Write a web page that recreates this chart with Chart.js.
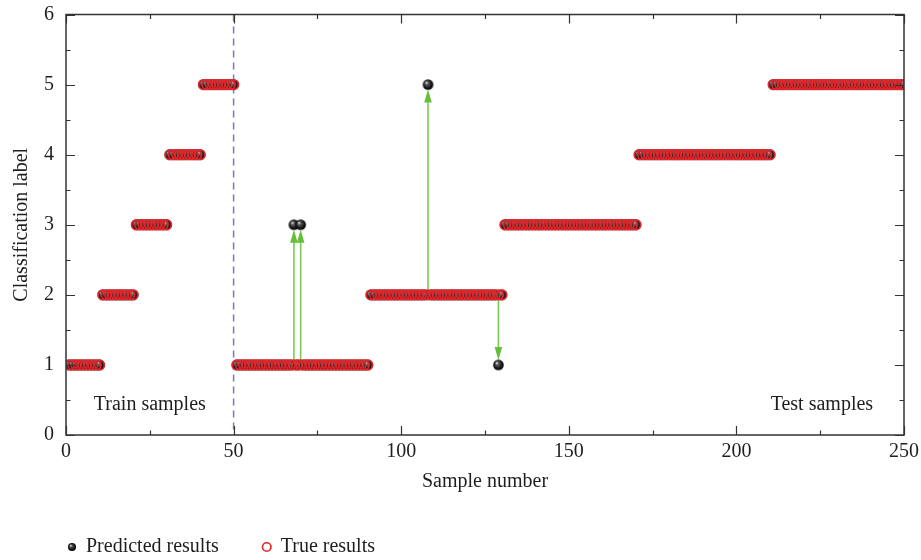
<!DOCTYPE html>
<html><head><meta charset="utf-8">
<script src="https://cdn.jsdelivr.net/npm/chart.js@4.4.1/dist/chart.umd.min.js"></script>
<style>html,body{margin:0;padding:0;background:#fff;}#wrap{width:921px;height:560px;position:relative;}</style>
</head><body><div id="wrap"><canvas id="c" width="921" height="560"></canvas></div>
<script>
// ---- data ----
const xTicks = [0, 50, 100, 150, 200, 250];
const yTicks = [0, 1, 2, 3, 4, 5, 6];
const seriesNames = ['Predicted results', 'True results'];
const regionLabels = ['Train samples', 'Test samples'];
const trainTestBoundary = 50;

const trueLabels = [
  1,1,1,1,1,1,1,1,1,1,
  2,2,2,2,2,2,2,2,2,2,
  3,3,3,3,3,3,3,3,3,3,
  4,4,4,4,4,4,4,4,4,4,
  5,5,5,5,5,5,5,5,5,5,
  1,1,1,1,1,1,1,1,1,1,
  1,1,1,1,1,1,1,1,1,1,
  1,1,1,1,1,1,1,1,1,1,
  1,1,1,1,1,1,1,1,1,1,
  2,2,2,2,2,2,2,2,2,2,
  2,2,2,2,2,2,2,2,2,2,
  2,2,2,2,2,2,2,2,2,2,
  2,2,2,2,2,2,2,2,2,2,
  3,3,3,3,3,3,3,3,3,3,
  3,3,3,3,3,3,3,3,3,3,
  3,3,3,3,3,3,3,3,3,3,
  3,3,3,3,3,3,3,3,3,3,
  4,4,4,4,4,4,4,4,4,4,
  4,4,4,4,4,4,4,4,4,4,
  4,4,4,4,4,4,4,4,4,4,
  4,4,4,4,4,4,4,4,4,4,
  5,5,5,5,5,5,5,5,5,5,
  5,5,5,5,5,5,5,5,5,5,
  5,5,5,5,5,5,5,5,5,5,
  5,5,5,5,5,5,5,5,5,5
];

const predictedLabels = [
  1,1,1,1,1,1,1,1,1,1,
  2,2,2,2,2,2,2,2,2,2,
  3,3,3,3,3,3,3,3,3,3,
  4,4,4,4,4,4,4,4,4,4,
  5,5,5,5,5,5,5,5,5,5,
  1,1,1,1,1,1,1,1,1,1,
  1,1,1,1,1,1,1,3,1,3,
  1,1,1,1,1,1,1,1,1,1,
  1,1,1,1,1,1,1,1,1,1,
  2,2,2,2,2,2,2,2,2,2,
  2,2,2,2,2,2,2,5,2,2,
  2,2,2,2,2,2,2,2,2,2,
  2,2,2,2,2,2,2,2,1,2,
  3,3,3,3,3,3,3,3,3,3,
  3,3,3,3,3,3,3,3,3,3,
  3,3,3,3,3,3,3,3,3,3,
  3,3,3,3,3,3,3,3,3,3,
  4,4,4,4,4,4,4,4,4,4,
  4,4,4,4,4,4,4,4,4,4,
  4,4,4,4,4,4,4,4,4,4,
  4,4,4,4,4,4,4,4,4,4,
  5,5,5,5,5,5,5,5,5,5,
  5,5,5,5,5,5,5,5,5,5,
  5,5,5,5,5,5,5,5,5,5,
  5,5,5,5,5,5,5,5,5,5
];

// ---- styling helpers ----
const FONT = '"Liberation Serif", "Times New Roman", serif';
const TXT = '#1e1e1e';
function makeSphere(r) {
  const s = Math.ceil(r * 2 + 2);
  const cv = document.createElement('canvas');
  cv.width = s; cv.height = s;
  const g = cv.getContext('2d');
  const c = s / 2;
  const grad = g.createRadialGradient(c - r * 0.35, c - r * 0.4, r * 0.05, c, c, r);
  grad.addColorStop(0, '#e6e6e6');
  grad.addColorStop(0.3, '#555');
  grad.addColorStop(0.75, '#151515');
  grad.addColorStop(1, '#000');
  g.fillStyle = grad;
  g.beginPath(); g.arc(c, c, r, 0, Math.PI * 2); g.fill();
  return cv;
}
const sphere = makeSphere(5.3);
const sphereSmall = makeSphere(4);

const predPoints = predictedLabels.map((v, i) => ({ x: i + 1, y: v }));
const truePoints = trueLabels.map((v, i) => ({ x: i + 1, y: v }));

const decor = {
  id: 'decor',
  afterLayout(chart) {
    chart.legend.left = 24;
    chart.legend.top = 493;
  },
  beforeDatasetsDraw(chart) {
    const { ctx, chartArea: a, scales: { x, y } } = chart;
    ctx.save();
    ctx.strokeStyle = '#6b7fc4';
    ctx.lineWidth = 1.5;
    ctx.setLineDash([7, 5]);
    const bx = x.getPixelForValue(trainTestBoundary);
    ctx.beginPath(); ctx.moveTo(bx, a.top); ctx.lineTo(bx, a.bottom); ctx.stroke();
    ctx.setLineDash([]);
    predictedLabels.forEach((p, i) => {
      const t = trueLabels[i];
      if (p === t) return;
      const px = x.getPixelForValue(i + 1);
      const y0 = y.getPixelForValue(t);
      const y1 = y.getPixelForValue(p);
      const dir = y1 < y0 ? -1 : 1;
      const tip = y1 - dir * 5;
      const headLen = 13, headW = 3.8;
      ctx.strokeStyle = '#7cc853';
      ctx.lineWidth = 1.6;
      ctx.beginPath(); ctx.moveTo(px, y0); ctx.lineTo(px, tip - dir * headLen + dir * 1); ctx.stroke();
      ctx.fillStyle = '#66bd3a';
      ctx.beginPath();
      ctx.moveTo(px, tip);
      ctx.lineTo(px - headW, tip - dir * headLen);
      ctx.lineTo(px + headW, tip - dir * headLen);
      ctx.closePath(); ctx.fill();
    });
    ctx.restore();
  },
  afterDatasetsDraw(chart) {
    const { ctx, chartArea: a, scales: { x, y } } = chart;
    ctx.save();
    ctx.strokeStyle = '#333';
    ctx.lineWidth = 1.5;
    ctx.strokeRect(a.left, a.top, a.right - a.left, a.bottom - a.top);
    ctx.lineWidth = 1.2;
    ctx.beginPath();
    const maj = 9, mnr = 4.5;
    xTicks.forEach((v, i) => {
      const px = Math.round(x.getPixelForValue(v)) + 0.5;
      ctx.moveTo(px, a.bottom); ctx.lineTo(px, a.bottom - maj);
      ctx.moveTo(px, a.top); ctx.lineTo(px, a.top + maj);
      if (i < xTicks.length - 1) {
        const mx = Math.round(x.getPixelForValue((v + xTicks[i + 1]) / 2)) + 0.5;
        ctx.moveTo(mx, a.bottom); ctx.lineTo(mx, a.bottom - mnr);
        ctx.moveTo(mx, a.top); ctx.lineTo(mx, a.top + mnr);
      }
    });
    yTicks.forEach((v, i) => {
      const py = Math.round(y.getPixelForValue(v)) + 0.5;
      ctx.moveTo(a.left, py); ctx.lineTo(a.left + maj, py);
      ctx.moveTo(a.right, py); ctx.lineTo(a.right - maj, py);
      if (i < yTicks.length - 1) {
        const my = Math.round(y.getPixelForValue((v + yTicks[i + 1]) / 2)) + 0.5;
        ctx.moveTo(a.left, my); ctx.lineTo(a.left + mnr, my);
        ctx.moveTo(a.right, my); ctx.lineTo(a.right - mnr, my);
      }
    });
    ctx.stroke();
    ctx.fillStyle = TXT;
    ctx.font = '20px ' + FONT;
    ctx.textAlign = 'center';
    ctx.textBaseline = 'middle';
    ctx.fillText(regionLabels[0], x.getPixelForValue(25), y.getPixelForValue(0.43));
    ctx.fillText(regionLabels[1], x.getPixelForValue(225.5), y.getPixelForValue(0.43));
    ctx.restore();
  }
};

new Chart(document.getElementById('c'), {
  type: 'scatter',
  data: {
    datasets: [
      { label: seriesNames[0], data: predPoints, pointStyle: sphere, pointRadius: 5.3,
        backgroundColor: '#111', borderColor: '#111', order: 1 },
      { label: seriesNames[1], data: truePoints, pointStyle: 'circle', pointRadius: 4.8,
        borderWidth: 1.7, borderColor: '#e0262b', backgroundColor: 'rgba(0,0,0,0)', order: 0 }
    ]
  },
  options: {
    responsive: false,
    animation: false,
    devicePixelRatio: 1,
    layout: { padding: { top: 14.5, right: 17, left: 0, bottom: 0 } },
    scales: {
      x: {
        type: 'linear', min: 0, max: 250,
        afterBuildTicks: s => { s.ticks = xTicks.map(v => ({ value: v })); },
        afterFit: s => { s.height = 59; s.paddingLeft = 0; s.paddingRight = 0; s.paddingTop = 0; s.paddingBottom = 0; },
        ticks: { padding: 5, maxRotation: 0, color: TXT, font: { family: FONT, size: 20 } },
        grid: { display: false, drawTicks: false },
        border: { display: false },
        title: { display: true, text: 'Sample number', color: TXT, padding: { top: 0, bottom: 0 },
                 font: { family: FONT, size: 20 } }
      },
      y: {
        type: 'linear', min: 0, max: 6,
        afterBuildTicks: s => { s.ticks = yTicks.map(v => ({ value: v })); },
        afterFit: s => { s.width = 66; s.paddingLeft = 0; s.paddingRight = 0; s.paddingTop = 0; s.paddingBottom = 0; },
        ticks: { padding: 12, color: TXT, font: { family: FONT, size: 20 } },
        grid: { display: false, drawTicks: false },
        border: { display: false },
        title: { display: true, text: 'Classification label', color: TXT, padding: { top: 10, bottom: 0 },
                 font: { family: FONT, size: 20 } }
      }
    },
    plugins: {
      tooltip: { enabled: false },
      legend: {
        position: 'bottom', align: 'start', maxHeight: 66,
        labels: {
          usePointStyle: true, boxWidth: 8, boxHeight: 6, padding: 44, color: TXT,
          font: { family: FONT, size: 20 },
          sort: (a, b) => a.datasetIndex - b.datasetIndex,
          generateLabels: (chart) => {
            const items = Chart.defaults.plugins.legend.labels.generateLabels(chart);
            items.forEach(it => { if (it.datasetIndex === 0) it.pointStyle = sphereSmall; });
            return items;
          }
        }
      }
    }
  },
  plugins: [decor]
});
</script>
</body></html>
